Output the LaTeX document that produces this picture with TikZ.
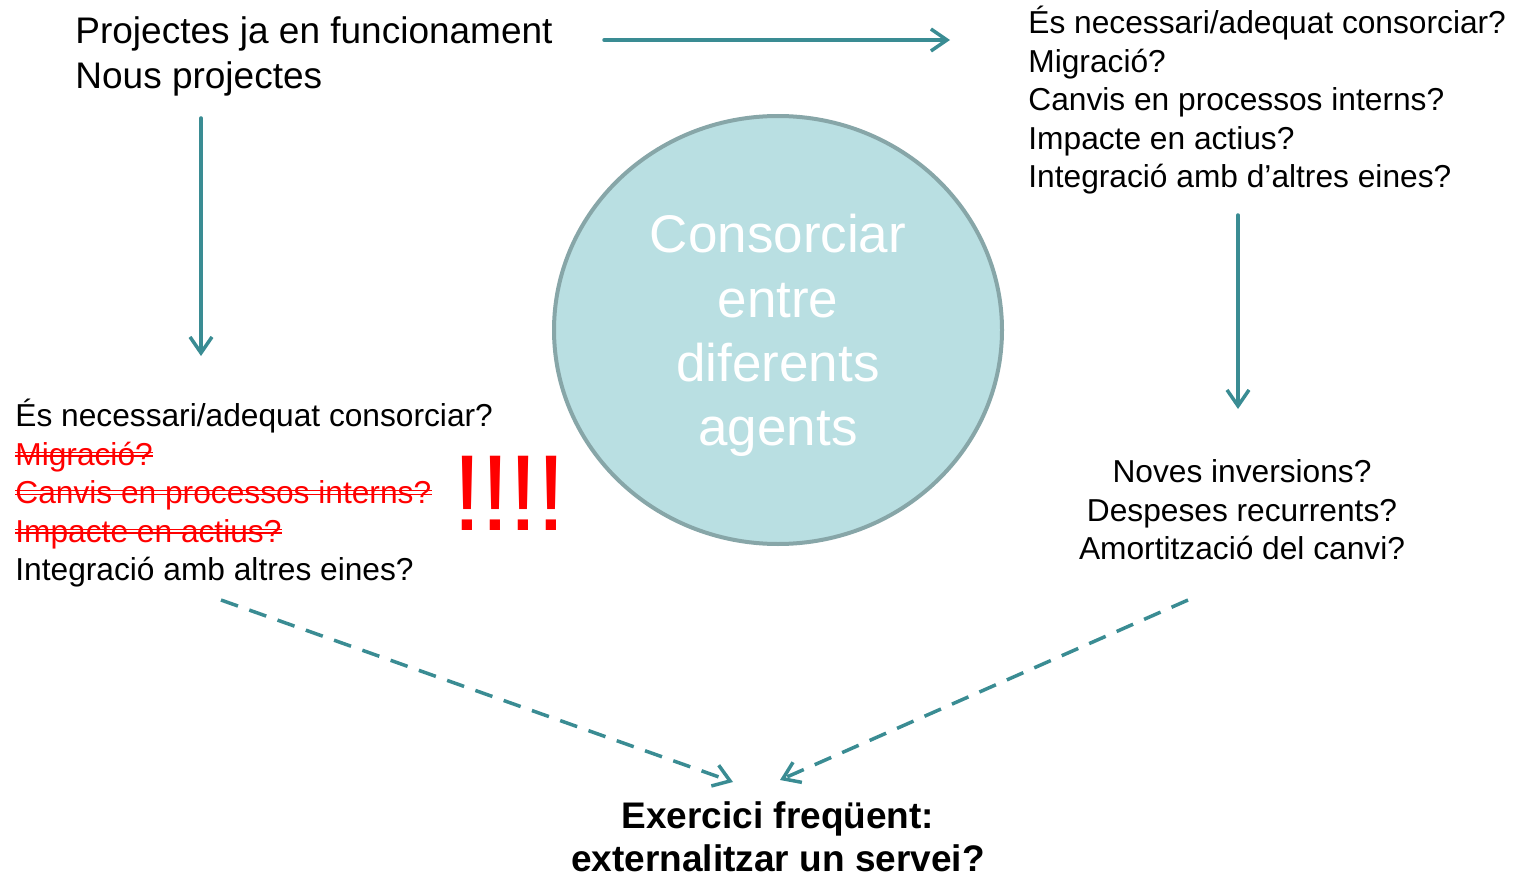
\documentclass[tikz,border=0pt]{standalone}
\usepackage{fontspec}
\setmainfont{Liberation Sans}
\usetikzlibrary{arrows.meta,shapes.geometric}
\definecolor{teal1}{RGB}{58,140,147}
\definecolor{circfill}{RGB}{185,223,226}
\definecolor{circline}{RGB}{135,166,168}
\definecolor{redx}{RGB}{255,0,0}
\tikzset{
  txt/.style={inner sep=0pt, anchor=base west, font=\fontsize{15.85}{19}\selectfont},
  bigtxt/.style={inner sep=0pt, anchor=base west, font=\fontsize{18.5}{22}\selectfont},
  ctxt/.style={inner sep=0pt, anchor=base, font=\fontsize{15.85}{19}\selectfont},
  circtxt/.style={inner sep=0pt, anchor=base, text=white, font=\fontsize{26.5}{32}\selectfont},
  boldtxt/.style={inner sep=0pt, anchor=base, font=\bfseries\fontsize{18.5}{22}\selectfont},
  struck/.style={txt, text=redx},
  strikeline/.style={draw=redx, line width=0.7pt},
  conn/.style={draw=teal1, line width=1.75pt, line cap=round, -{Straight Barb[length=8pt,width=11pt,line width=1.75pt]}},
  dconn/.style={conn, dash pattern=on 9pt off 6pt, line cap=butt},
}
\begin{document}
\begin{tikzpicture}[x=0.5pt,y=-0.5pt]
\useasboundingbox (0,0) rectangle (1520,877);

% central circle
\node[draw=circline, fill=circfill, line width=2pt, ellipse, minimum width=224pt, minimum height=214pt, inner sep=0pt] (circ) at (778,330) {};
\node[circtxt] (c1) at (778,253) {Consorciar};
\node[circtxt] (c2) at (778,317) {entre};
\node[circtxt] (c3) at (778,381) {diferents};
\node[circtxt] (c4) at (778,445) {agents};

% top-left
\node[bigtxt] (tl1) at (75,44) {Projectes ja en funcionament};
\node[bigtxt] (tl2) at (75,89) {Nous projectes};

% top-right
\node[txt] (tr1) at (1028,34) {És necessari/adequat consorciar?};
\node[txt] (tr2) at (1028,72.5) {Migració?};
\node[txt] (tr3) at (1028,111) {Canvis en processos interns?};
\node[txt] (tr4) at (1028,149.5) {Impacte en actius?};
\node[txt] (tr5) at (1028,188) {Integració amb d’altres eines?};

% left block
\node[txt] (l1) at (15,426) {És necessari/adequat consorciar?};
\node[struck] (l2) at (15,465) {Migració?};
\node[struck] (l3) at (15,503.5) {Canvis en processos interns?};
\node[struck] (l4) at (15,542) {Impacte en actius?};
\node[txt] (l5) at (15,580.5) {Integració amb altres eines?};
\foreach \n in {l2,l3,l4}{
  \draw[strikeline] ([yshift=4.6pt]\n.base west) -- ([yshift=4.6pt]\n.base east);
  \draw[strikeline] ([yshift=6.4pt]\n.base west) -- ([yshift=6.4pt]\n.base east);
}
\node[inner sep=0pt, anchor=base west, text=redx, font=\fontsize{54}{60}\selectfont] (excl) at (452,530) {\hbox{!\kern-1pt!\kern-1pt!\kern-1pt!}};

% right bottom block
\node[ctxt] (r1) at (1242,482) {Noves inversions?};
\node[ctxt] (r2) at (1242,521) {Despeses recurrents?};
\node[ctxt] (r3) at (1242,559) {Amortització del canvi?};

% bottom
\node[boldtxt] (b1) at (778,828) {Exercici freqüent:};
\node[boldtxt] (b2) at (778,871) {externalitzar un servei?};

% connector end points
\coordinate (hA) at (604,40);
\coordinate (hB) at (950,40);
\coordinate (vlA) at (201,118);
\coordinate (vlB) at (201,356);
\coordinate (vrA) at (1238,215);
\coordinate (vrB) at (1238,409);
\coordinate (dlA) at (221,600);
\coordinate (dlB) at (733,782);
\coordinate (drA) at (1188,600);
\coordinate (drB) at (780,780);

\draw[conn] (hA) -- (hB);
\draw[conn] (vlA) -- (vlB);
\draw[conn] (vrA) -- (vrB);
\draw[dconn] (dlA) -- (dlB);
\draw[dconn] (drA) -- (drB);
\end{tikzpicture}
\end{document}
